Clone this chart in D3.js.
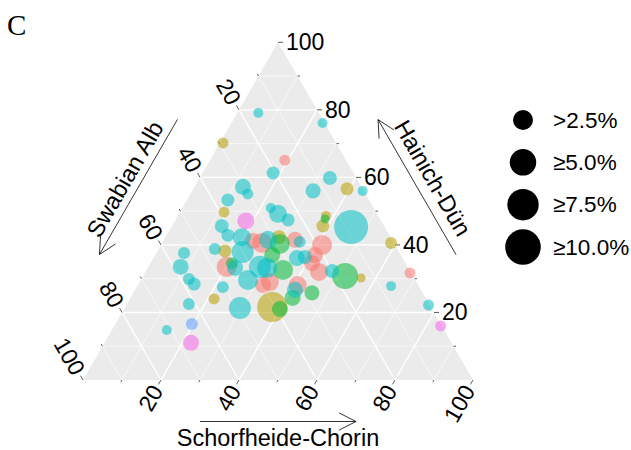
<!DOCTYPE html>
<html>
<head>
<meta charset="utf-8">
<script src="https://d3js.org/d3.v7.min.js"></script>
<style>
  body { margin: 0; background: #fff; }
  text { font-family: "Liberation Sans", Arial, sans-serif; }
</style>
</head>
<body>
<svg width="631" height="450"></svg>
<script>
// ternary composition (%) of each taxon across the three regions
var swabian = [15.5,0.5,29.0,15.7,20.6,30.4,30.2,36.2,39.0,34.7,41.6,41.4,38.1,35.8,33.8,31.8,26.4,25.4,23.7,13.0,
  6.8,4.0,0.3,13.4,15.7,14.1,8.6,0.7,18.7,22.0,23.5,20.0,17.4,13.6,0.3,7.1,0.3,0.3,28.6,29.4,
  24.0,24.9,46.8,44.5,40.1,55.3,58.2,44.5,46.4,44.4,42.9,37.9,39.8,50.4,57.9,57.3,54.4,61.6,49.1,40.7,
  39.0,34.1,28.4,32.3,30.9,36.2,32.4,37.6,27.1,24.0,63.8,71.1,66.8,24.9,33.0];
var hainich = [79.1,76.1,70.2,65.1,61.3,57.2,55.1,53.3,49.7,47.1,45.6,42.9,42.3,41.2,40.6,41.5,50.9,49.2,47.4,56.0,
  59.8,56.6,56.0,48.6,45.6,47.7,45.3,40.6,40.0,37.0,32.0,32.3,30.8,30.2,31.7,27.8,22.2,16.0,42.3,40.3,
  40.9,41.5,38.8,38.2,37.9,37.6,33.5,34.6,33.5,33.2,29.6,33.5,28.1,27.5,29.9,28.4,24.0,22.5,21.3,21.6,
  21.0,24.3,25.8,26.7,28.1,33.2,32.6,29.0,36.1,34.6,16.6,14.8,11.0,36.4,37.0];
var schorf = [5.4,23.4,0.8,19.2,18.1,12.4,14.7,10.5,11.3,18.2,12.8,15.7,19.6,23.0,25.6,26.7,22.7,25.4,28.9,31.0,
  33.4,39.4,43.7,38.0,38.7,38.2,46.1,58.7,41.3,41.0,44.5,47.7,51.8,56.2,68.0,65.1,77.5,83.7,29.1,30.3,
  35.1,33.6,14.4,17.3,22.0,7.1,8.3,20.9,20.1,22.4,27.5,28.6,32.1,22.1,12.2,14.3,21.6,15.9,29.6,37.7,
  40.0,41.6,45.8,41.0,41.0,30.6,35.0,33.4,36.8,41.4,19.6,14.1,22.2,38.7,30.0];
// relative abundance (%)
var abundance = [0.32,0.32,0.45,0.45,0.76,1.38,0.45,0.76,0.45,1.63,0.95,0.76,1.9,1.38,2.5,1.9,0.32,1.9,0.76,1.16,
  0.95,0.76,0.32,0.32,0.76,0.22,9.0,0.59,2.5,1.38,1.9,0.95,4.8,0.22,0.45,0.32,0.45,0.45,0.95,2.5,
  0.59,1.38,0.59,0.76,3.19,0.59,1.38,0.59,2.5,1.38,2.5,3.19,1.38,0.59,0.59,0.76,0.45,0.59,3.19,6.74,
  1.38,1.38,1.16,1.38,1.9,2.5,2.5,1.9,1.38,1.38,0.59,0.32,1.38,0.95,1.38];
var group = [3,3,1,0,3,3,3,3,1,5,3,3,3,0,0,3,3,3,3,3,
  3,1,3,1,1,2,3,1,0,0,0,3,2,1,0,3,3,5,1,2,
  3,0,3,1,3,3,3,2,0,3,3,3,0,3,3,3,1,3,3,1,
  2,2,2,3,0,3,2,0,3,0,4,3,5,3,2];

var groupNames = ["g1","g2","g3","g4","g5","g6"];
var groupColors = ["#F8766D","#B79F00","#00BA38","#00BFC4","#619CFF","#F564E3"];
var tickValues = [10,20,30,40,50,60,70,80,90,100];
var axisTitles = ["Swabian Alb","Hainich-Dün","Schorfheide-Chorin"];
var legendBreaks = [2.5,5,7.5,10];
var legendLabels = [">2.5%","≥5.0%","≥7.5%","≥10.0%"];

var svg = d3.select("svg");

var x = d3.scaleLinear().domain([0,100]).range([83,473]);
var y = d3.scaleLinear().domain([0,100]).range([380,42.3]);
var r = d3.scaleSqrt().domain([0,10]).range([2.2,17.8]);
var color = d3.scaleOrdinal().domain(groupNames).range(groupColors);

// a = Swabian Alb, h = Hainich-Dün, s = Schorfheide-Chorin
function pt(a, h, s) { return [x(s + h/2), y(h)]; }

// panel tag
svg.append("text").attr("x",7).attr("y",35)
  .style("font-family","'Liberation Serif', 'Times New Roman', serif")
  .style("font-size","29px").text("C");

// background triangle
svg.append("path")
  .attr("d", d3.line()([pt(100,0,0), pt(0,100,0), pt(0,0,100)]) + "Z")
  .attr("fill","#EBEBEB");

// grid
var levels = tickValues.filter(v => v < 100);
var grid = svg.append("g");
levels.forEach(function(v) {
  var segs = [
    [pt(100-v, v, 0), pt(0, v, 100-v)],
    [pt(v, 100-v, 0), pt(v, 0, 100-v)],
    [pt(100-v, 0, v), pt(0, 100-v, v)]
  ];
  segs.forEach(function(s) {
    grid.append("path").attr("d", d3.line()(s))
      .attr("stroke","#fff")
      .attr("stroke-width", v % 20 == 0 ? 1.4 : 0.6)
      .attr("fill","none");
  });
});

// ticks + labels
var axes = [
  { at: v => pt(v, 100-v, 0), dir: [-0.5,-0.866], rot: 60, anchor: "end" },
  { at: v => pt(0, v, 100-v), dir: [1,0], rot: 0, anchor: "start" },
  { at: v => pt(100-v, 0, v), dir: [-0.5,0.866], rot: -60, anchor: "end" }
];
var tg = svg.append("g");
axes.forEach(function(ax) {
  tickValues.forEach(function(v) {
    var p = ax.at(v), major = v % 20 == 0, len = major ? 5 : 2.5;
    tg.append("line")
      .attr("x1",p[0]).attr("y1",p[1])
      .attr("x2",p[0]+ax.dir[0]*len).attr("y2",p[1]+ax.dir[1]*len)
      .attr("stroke","#333").attr("stroke-width",0.8);
    if (major) {
      var lx = p[0]+ax.dir[0]*8, ly = p[1]+ax.dir[1]*8;
      tg.append("text")
        .attr("transform","translate("+lx+","+ly+") rotate("+ax.rot+")")
        .attr("text-anchor",ax.anchor)
        .attr("dominant-baseline","central")
        .style("font-size","23px")
        .text(v);
    }
  });
});

// axis arrows and titles
function arrow(p0, p1, n, off) {
  var a = [p0[0]+n[0]*off, p0[1]+n[1]*off], b = [p1[0]+n[0]*off, p1[1]+n[1]*off];
  var ang = Math.atan2(b[1]-a[1], b[0]-a[0]), hl = 19, hw = 0.47;
  var h1 = [b[0]-hl*Math.cos(ang-hw), b[1]-hl*Math.sin(ang-hw)];
  var h2 = [b[0]-hl*Math.cos(ang+hw), b[1]-hl*Math.sin(ang+hw)];
  svg.append("path")
    .attr("d", d3.line()([a,b]) + "M" + h1 + "L" + b + "L" + h2)
    .attr("stroke","#000").attr("stroke-width",0.8).attr("fill","none");
}
arrow(pt(30,70,0), pt(70,30,0), [-0.866,-0.5], 48.5);
arrow(pt(0,30,70), pt(0,70,30), [0.866,-0.5], 48);
arrow(pt(70,0,30), pt(30,0,70), [0,1], 41.5);

function title(p, n, off, rot, txt) {
  svg.append("text")
    .attr("transform","translate("+(p[0]+n[0]*off)+","+(p[1]+n[1]*off)+") rotate("+rot+")")
    .attr("text-anchor","middle").attr("dominant-baseline","central")
    .style("font-size","23.5px").text(txt);
}
title(pt(50,50,0), [-0.866,-0.5], 64, -60, axisTitles[0]);
title(pt(0,50,50), [0.866,-0.5], 66, 60, axisTitles[1]);
title(pt(50,0,50), [0,1], 58, 0, axisTitles[2]);

// points
var pts = d3.range(swabian.length).map(i => ({
  a: swabian[i], h: hainich[i], s: schorf[i], v: abundance[i], g: groupNames[group[i]], gi: group[i]
}));
pts.sort((p, q) => p.gi - q.gi);

svg.append("g").selectAll("circle")
  .data(pts).enter().append("circle")
  .attr("cx", d => pt(d.a, d.h, d.s)[0])
  .attr("cy", d => pt(d.a, d.h, d.s)[1])
  .attr("r", d => r(d.v))
  .attr("fill", d => color(d.g))
  .attr("fill-opacity", 0.55);

// size legend
var ly = d3.scalePoint().domain(legendLabels).range([120,247]);
var lg = svg.append("g");
lg.selectAll("circle").data(legendBreaks).enter().append("circle")
  .attr("cx",523).attr("cy",(d,i) => ly(legendLabels[i]))
  .attr("r", d => r(d)).attr("fill","#000");
lg.selectAll("text").data(legendLabels).enter().append("text")
  .attr("x",553).attr("y", d => ly(d))
  .attr("dominant-baseline","central")
  .style("font-size","22.5px").text(d => d);
</script>
</body>
</html>
